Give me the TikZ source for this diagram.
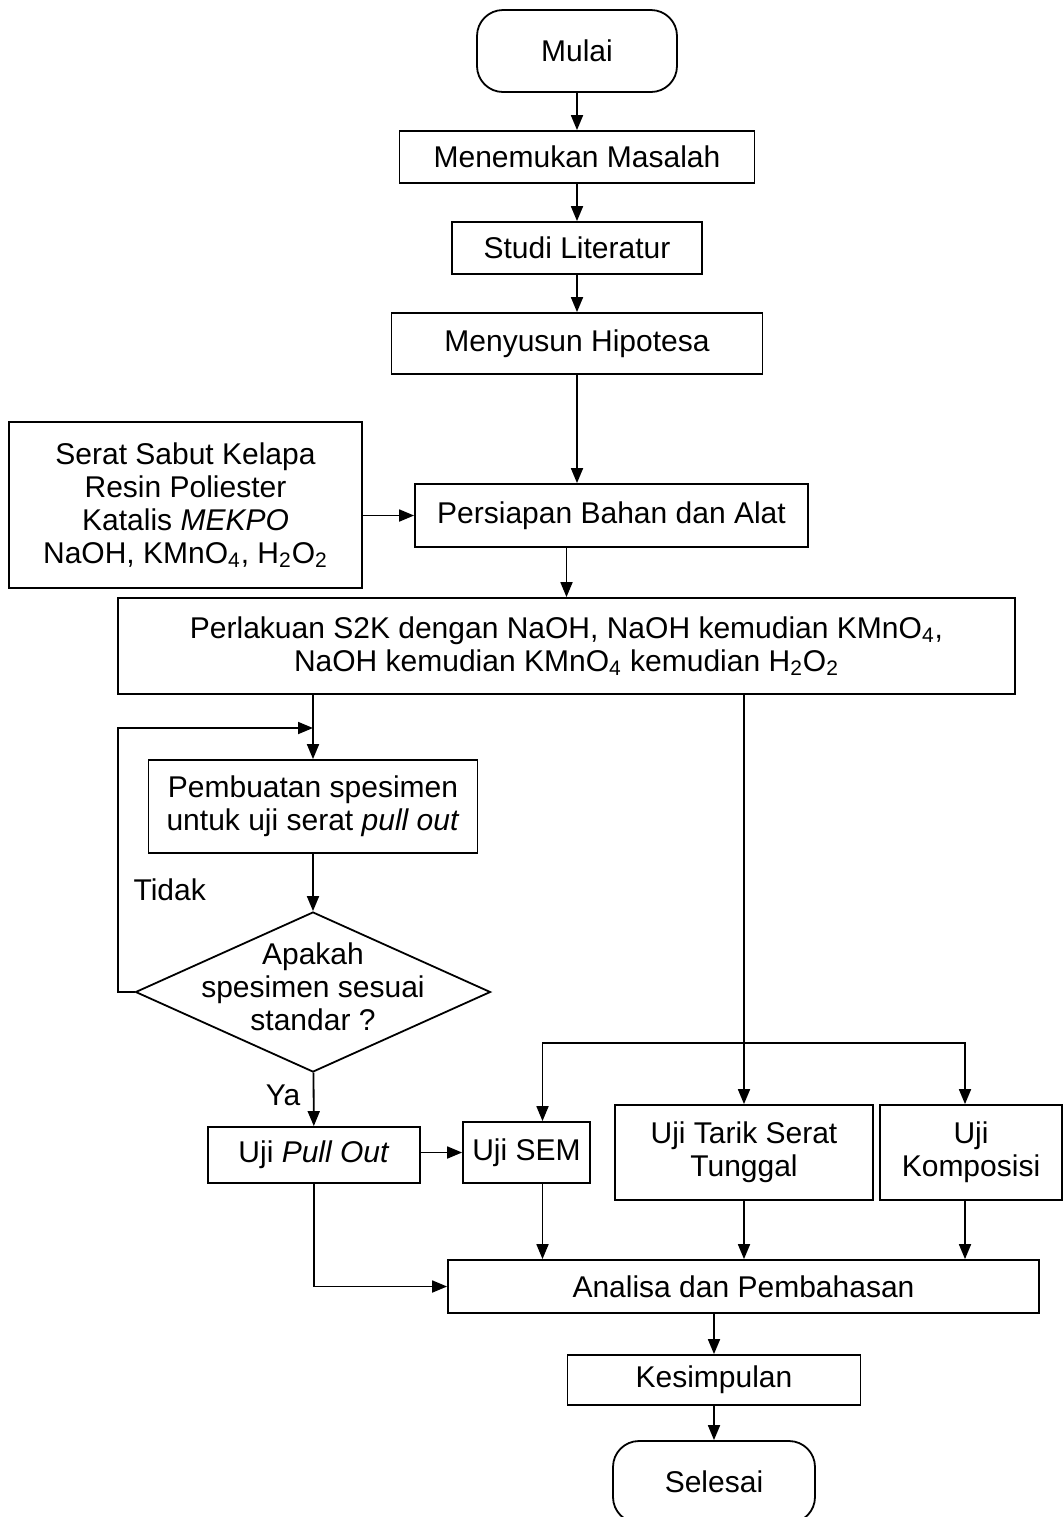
\documentclass[tikz,border=0pt]{standalone}
\usepackage{fontspec}
\setmainfont{Liberation Sans}
\usetikzlibrary{arrows.meta,shapes.geometric}

\begin{document}
\begin{tikzpicture}[x=0.5pt,y=-0.5pt,
    font=\fontsize{15}{16.5}\selectfont,
    line width=0.9pt,
    kotak/.style={draw,rectangle,inner sep=0pt,align=center},
    ujung/.style={draw,rectangle,rounded corners=13pt,inner sep=0pt},
    panah/.style={-{Triangle[length=7.5pt,width=6pt]}}]
            \clip (0,0) rectangle (1064,1517);
            \fill[white] (0,0) rectangle (1064,1517);
            % alur utama
            \node[ujung,minimum width=100pt,minimum height=41pt] (mulai) at (577,51) {Mulai};
            \node[kotak,minimum width=177.5pt,minimum height=26pt] (masalah) at (577,157) {Menemukan Masalah};
            \node[kotak,minimum width=125pt,minimum height=26pt] (studi) at (577,248) {Studi Literatur};
            \node[kotak,minimum width=185.5pt,minimum height=30.5pt] (hipotesa) at (577,343.5) {Menyusun Hipotesa};
            \node[kotak,minimum width=176.5pt,minimum height=83pt] (bahan) at (185.5,505)
                {Serat Sabut Kelapa\\Resin Poliester\\Katalis \textit{MEKPO}\\NaOH, KMnO\textsubscript{4}, H\textsubscript{2}O\textsubscript{2}};
            \node[kotak,minimum width=196.5pt,minimum height=31.5pt] (persiapan) at (611.5,515.5) {Persiapan Bahan dan Alat};
            \node[kotak,minimum width=448.5pt,minimum height=48pt] (s2k) at (566.5,646)
                {Perlakuan S2K dengan NaOH, NaOH kemudian KMnO\textsubscript{4},\\NaOH kemudian KMnO\textsubscript{4} kemudian H\textsubscript{2}O\textsubscript{2}};
            % cabang pull out
            \node[kotak,minimum width=164.5pt,minimum height=46.5pt] (spesimen) at (313,806.5) {Pembuatan spesimen\\untuk uji serat \textit{pull out}};
            \node[draw,diamond,minimum width=177.5pt,minimum height=80pt,inner sep=0pt] (cek) at (313,992) {};
            \node[align=center] (tanya) at (313,987) {Apakah\\spesimen sesuai\\standar ?};
            \node[anchor=west] (tidak) at (126,890) {Tidak};
            \node (ya) at (283,1095) {Ya};
            \node[kotak,minimum width=106pt,minimum height=28pt] (pullout) at (314,1155) {Uji \textit{Pull Out}};
            % pengujian
            \node[kotak,minimum width=63.5pt,minimum height=30.5pt] (sem) at (526.5,1152.5) {Uji SEM};
            \node[kotak,minimum width=129pt,minimum height=47.5pt] (tarik) at (744,1152.5) {Uji Tarik Serat\\Tunggal};
            \node[kotak,minimum width=91pt,minimum height=47.5pt] (komposisi) at (971,1152.5) {Uji\\Komposisi};
            \node[kotak,minimum width=295.5pt,minimum height=26.5pt] (analisa) at (743.5,1286.5) {Analisa dan Pembahasan};
            \node[kotak,minimum width=146.5pt,minimum height=25pt] (kesimpulan) at (714,1380) {Kesimpulan};
            \node[ujung,minimum width=101pt,minimum height=41pt] (selesai) at (714,1482) {Selesai};
            \coordinate (masuk) at (313,728);
            \coordinate (kiri) at (118,728);
            \coordinate (cabang) at (744,1043);
            % panah
            \foreach \a/\b in {mulai/masalah,masalah/studi,studi/hipotesa,spesimen/cek,cek/pullout,kesimpulan/selesai}
            \draw[panah] (\a) -- (\b);
            \draw[panah] (hipotesa.south) -- (hipotesa.south |- persiapan.north);
            \draw[panah] (persiapan.west -| bahan.east) -- (persiapan.west);
            \draw[panah] (s2k.north |- persiapan.south) -- (s2k.north);
            \draw[panah] (spesimen.north |- s2k.south) -- (spesimen.north);
            \draw[panah] (cek.west) -| (kiri) -- (masuk);
            \draw[panah] (pullout.east |- sem.west) -- (sem.west);
            \draw[panah] (pullout.south) |- (analisa.west);
            \draw[panah] (tarik.north |- s2k.south) -- (tarik.north);
            \draw[panah] (cabang) -| ([xshift=8pt]sem.north);
            \draw[panah] (cabang) -| ([xshift=-3pt]komposisi.north);
            \foreach \u/\g in {sem/8pt,tarik/0pt,komposisi/-3pt}
            \draw[panah] ([xshift=\g]\u.south) -- ([xshift=\g]\u.south |- analisa.north);
            \draw[panah] (analisa.south -| kesimpulan.north) -- (kesimpulan.north);
        \end{tikzpicture}
\end{document}
